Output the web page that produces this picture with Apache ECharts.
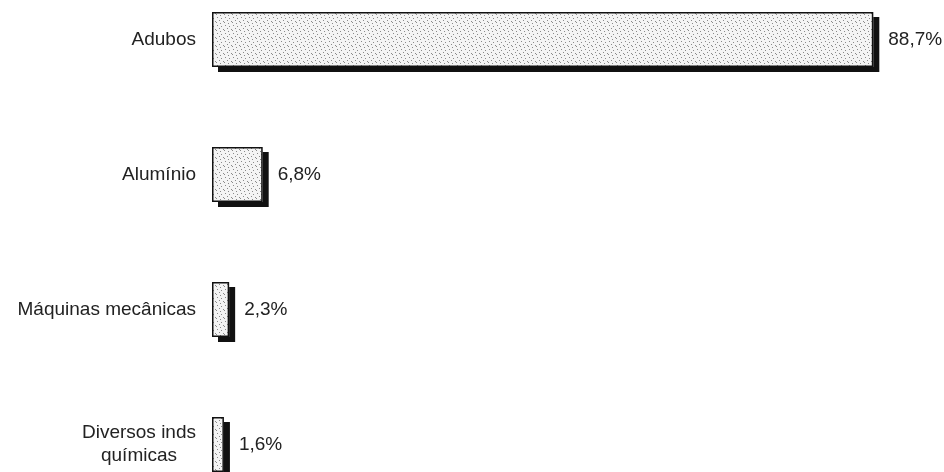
<!DOCTYPE html>
<html>
<head>
<meta charset="utf-8">
<script src="https://cdn.jsdelivr.net/npm/echarts@6/dist/echarts.min.js"></script>
<style>
  html, body { margin: 0; padding: 0; background: #fff; }
  #chart { width: 944px; height: 472px; }
</style>
</head>
<body>
<div id="chart"></div>
<script>
// categorias e valores (%)
var categorias = ['Adubos', 'Alumínio', 'Máquinas mecânicas', 'Diversos inds\nquímicas'];
var valores = [88.7, 6.8, 2.3, 1.6];
var rotulos = ['88,7%', '6,8%', '2,3%', '1,6%'];

var fonte = '"Liberation Sans", Arial, sans-serif';

// textura pontilhada do preenchimento
function textura() {
  var c = document.createElement('canvas');
  c.width = 8; c.height = 8;
  var ctx = c.getContext('2d');
  ctx.fillStyle = '#f4f4f4';
  ctx.fillRect(0, 0, 8, 8);
  ctx.fillStyle = '#8a8a8a';
  [[1, 1], [5, 2], [3, 4], [7, 5], [0, 6], [4, 7]].forEach(function (p) {
    ctx.fillRect(p[0], p[1], 1, 1);
  });
  return c;
}

var myChart = echarts.init(document.getElementById('chart'));
var option = {
  backgroundColor: '#ffffff',
  animation: false,
  grid: { left: 212, width: 671, top: -28, height: 540, outerBoundsMode: 'none', containLabel: false },
  xAxis: {
    type: 'value',
    min: 0,
    max: 90,
    show: false
  },
  yAxis: {
    type: 'category',
    inverse: true,
    data: categorias,
    axisLine: { show: false },
    axisTick: { show: false },
    axisLabel: {
      margin: 16,
      formatter: function (v) {
        return v.split('\n').map(function (l) { return '{c|' + l + '}'; }).join('\n');
      },
      rich: {
        c: { align: 'center', fontSize: 19, lineHeight: 23, color: '#222', fontFamily: fonte }
      }
    }
  },
  series: [{
    // sombra
    type: 'bar',
    data: valores,
    barWidth: 55,
    z: 1,
    silent: true,
    itemStyle: {
      color: '#f4f4f4',
      shadowColor: '#111',
      shadowBlur: 0,
      shadowOffsetX: 6,
      shadowOffsetY: 5
    }
  }, {
    type: 'bar',
    data: valores,
    barWidth: 55,
    barGap: '-100%',
    z: 2,
    itemStyle: {
      color: { image: textura(), repeat: 'repeat' },
      borderColor: '#111',
      borderWidth: 1.5
    },
    label: {
      show: true,
      position: 'right',
      distance: 15,
      fontSize: 19,
      color: '#222',
      fontFamily: fonte,
      formatter: function (p) { return rotulos[p.dataIndex]; }
    }
  }]
};
myChart.setOption(option);
</script>
</body>
</html>
